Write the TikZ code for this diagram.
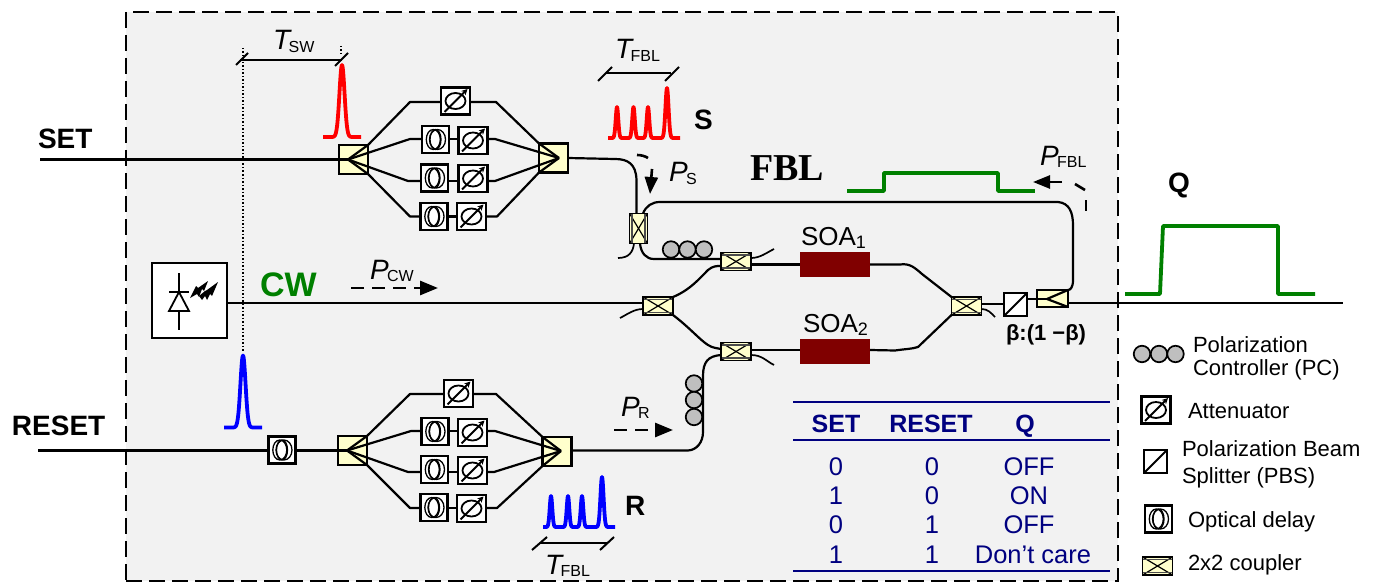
\documentclass[tikz,border=0pt]{standalone}
\usepackage{fontspec}
\setmainfont{Liberation Sans}
\newfontfamily\serifbold{Liberation Serif}[Scale=1]
\usetikzlibrary{arrows.meta,calc,shapes.geometric}
\definecolor{panel}{HTML}{F2F2F2}
\definecolor{cplr}{HTML}{FFFFCC}
\definecolor{soared}{HTML}{800000}
\definecolor{gline}{HTML}{008000}
\definecolor{tnavy}{HTML}{000080}
\definecolor{pcgray}{HTML}{BFBFBF}
\newcommand{\fs}[1]{\fontsize{#1}{#1}\selectfont}
\newcommand{\PT}[2]{{\fs{28}\itshape #1}\kern-1.5pt\raisebox{-2.5pt}{\fs{16}#2}}
\tikzset{
  fiber/.style={line width=2.2pt,black,line join=round},
  thinfiber/.style={line width=1.7pt,black,line join=round},
  iconbox/.style={draw=black,line width=2.4pt,fill=white,inner sep=0pt,rectangle,outer sep=0pt},
  attbox/.style={iconbox,minimum width=29pt,minimum height=27pt,path picture={
     \begin{scope}[shift={(path picture bounding box.center)}]
     \draw[line width=1.8pt] (0,0) ellipse [x radius=10pt,y radius=8pt];
     \draw[line width=1.8pt,-{Stealth[length=6pt,width=6pt]}] (-11,11) -- (12,-12);
     \end{scope}}},
  delaybox/.style={iconbox,minimum width=27pt,minimum height=27pt,path picture={
     \begin{scope}[shift={(path picture bounding box.center)}]
     \draw[line width=1.3pt] (-2.2,0) ellipse [x radius=7pt,y radius=10pt];
     \draw[line width=1.3pt] (0,0) ellipse [x radius=5.5pt,y radius=10pt];
     \draw[line width=1.3pt] (2,0) ellipse [x radius=8pt,y radius=10pt];
     \end{scope}}},
  pbsbox/.style={iconbox,minimum width=23pt,minimum height=23pt,path picture={
     \draw[line width=1.8pt] (path picture bounding box.south west) -- (path picture bounding box.north east);}},
  splitter/.style={draw=black,line width=2.2pt,fill=cplr,rectangle,inner sep=0pt,outer sep=0pt,minimum width=29pt,minimum height=29pt},
  hcoupler/.style={draw=black,line width=1.7pt,fill=cplr,rectangle,inner sep=0pt,outer sep=0pt,minimum width=30pt,minimum height=18pt,path picture={
     \draw[line width=1.2pt] (path picture bounding box.south west) -- (path picture bounding box.north east);
     \draw[line width=1.2pt] (path picture bounding box.north west) -- (path picture bounding box.south east);
     \draw[line width=1.2pt,black!70] ($(path picture bounding box.north west)+(0,2.5)$) -- ($(path picture bounding box.north east)+(0,2.5)$);
     \draw[line width=1.2pt,black!70] ($(path picture bounding box.south west)+(0,-2.5)$) -- ($(path picture bounding box.south east)+(0,-2.5)$);}},
  vcoupler/.style={draw=black,line width=1.7pt,fill=cplr,rectangle,inner sep=0pt,outer sep=0pt,minimum width=18pt,minimum height=30pt,path picture={
     \draw[line width=1.2pt] (path picture bounding box.south west) -- (path picture bounding box.north east);
     \draw[line width=1.2pt] (path picture bounding box.north west) -- (path picture bounding box.south east);
     \draw[line width=1.2pt,black!70] ($(path picture bounding box.north west)+(2.5,0)$) -- ($(path picture bounding box.south west)+(2.5,0)$);
     \draw[line width=1.2pt,black!70] ($(path picture bounding box.north east)+(-2.5,0)$) -- ($(path picture bounding box.south east)+(-2.5,0)$);}},
  tapbox/.style={draw=black,line width=2pt,fill=cplr,rectangle,inner sep=0pt,outer sep=0pt,minimum width=31pt,minimum height=17pt},
  soa/.style={fill=soared,rectangle,inner sep=0pt,outer sep=0pt,minimum width=70pt,minimum height=25pt},
  pc/.style={circle,draw=black,line width=1.7pt,fill=pcgray,inner sep=0pt,minimum size=16.5pt,outer sep=0pt},
  txt/.style={inner sep=0pt,outer sep=0pt,anchor=base west,font=\fs{22}},
  ctxt/.style={inner sep=0pt,outer sep=0pt,anchor=base,font=\fs{25.5},text=tnavy},
  hdr/.style={ctxt,font=\fs{25}\bfseries},
  lbl/.style={inner sep=0pt,outer sep=0pt,anchor=base west,font=\fs{28}\bfseries},
  dasharrow/.style={line width=2.8pt,dash pattern=on 13pt off 8pt,-{Triangle[length=18pt,width=14pt]}},
  dim/.style={line width=2pt,black},
  pulse/.style={line width=3.8pt,line join=round},
  tline/.style={line width=1.8pt,tnavy},
}
\begin{document}
\begin{tikzpicture}[x=1pt,y=-1pt]
\useasboundingbox (0,0) rectangle (1379,583);
\fill[white] (0,0) rectangle (1379,583);
\node[draw=black,fill=panel,line width=2.2pt,dash pattern=on 16pt off 7pt,rectangle,inner sep=0pt,minimum width=992pt,minimum height=569pt] (panelbox) at (622,296.5) {};

% --- upper bank ---
\node[splitter] (sin) at (353.5,159.5) {};
\node[splitter] (sout) at (553.5,158) {};
\coordinate (sinA) at (348,159.5);
\coordinate (soutA) at (559,158);
\node[attbox] (sa1) at (455.5,101) {};
\node[delaybox] (sd2) at (435.5,139.5) {};
\node[attbox] (sa2) at (473,140.5) {};
\node[delaybox] (sd3) at (434.5,178) {};
\node[attbox] (sa3) at (473,178.5) {};
\node[delaybox] (sd4) at (434,216.5) {};
\node[attbox] (sa4) at (471.5,216.5) {};
% --- lower bank ---
\node[splitter] (rin) at (352.5,450.5) {};
\node[splitter] (rout) at (557,451.5) {};
\coordinate (rinA) at (347,450.5);
\coordinate (routA) at (561,451);
\node[attbox] (ra1) at (458.5,393.5) {};
\node[delaybox] (rd2) at (435,431.5) {};
\node[attbox] (ra2) at (472.5,432.5) {};
\node[delaybox] (rd3) at (434.5,469.5) {};
\node[attbox] (ra3) at (472.5,470.5) {};
\node[delaybox] (rd4) at (434,507.5) {};
\node[attbox] (ra4) at (471.5,508.5) {};
\node[delaybox] (rdelay) at (282,450) {};
% --- interferometer ---
\node[vcoupler] (vc) at (638.5,228.5) {};
\node[hcoupler] (c1) at (736,261.5) {};
\node[hcoupler] (c2) at (658,306) {};
\node[hcoupler] (c3) at (736,351.5) {};
\node[hcoupler] (c4) at (966.5,306) {};
\node[soa] (soa1) at (835,264.5) {};
\node[soa] (soa2) at (835,351) {};
\node[pbsbox] (pbs) at (1015.5,304.5) {};
\node[tapbox] (tap) at (1052.5,298.5) {};
\coordinate (tapA) at (1047,299);
\node[iconbox,minimum width=75pt,minimum height=75pt] (laser) at (189.5,300.5) {};

% free ends
\coordinate (setend) at (40,159.5);
\coordinate (resetend) at (38,450.5);
\coordinate (qend) at (1343,303);

% --- fibres ---
\draw[fiber] (setend) -- (sin.west |- setend) -- (sinA);
\draw[fiber] (resetend) -- (rdelay.west |- resetend);
\draw[fiber] (rdelay.east |- resetend) -- (rin.west |- resetend) -- (rinA);
% upper arms
\draw[fiber] (sin.north east) -- (410,102) -- (sa1.west |- 0,102);
\draw[fiber] (sa1.east |- 0,102) -- (496,102) -- (sout.north west);
\draw[fiber] (sinA) -- (410,139) -- (sd2.west |- 0,139);
\draw[fiber] (sd2.east |- 0,139) -- (sa2.west |- 0,139);
\draw[fiber] (sa2.east |- 0,139) -- (495,139) -- (soutA);
\draw[fiber] (sinA) -- (408,181) -- (sd3.west |- 0,181);
\draw[fiber] (sd3.east |- 0,181) -- (sa3.west |- 0,181);
\draw[fiber] (sa3.east |- 0,181) -- (495,181) -- (soutA);
\draw[fiber] (sin.south east) -- (410,216.5) -- (sd4.west);
\draw[fiber] (sd4.east) -- (sa4.west);
\draw[fiber] (sa4.east) -- (497,216.5) -- (sout.south west);
\draw[fiber] (sinA) -- (sin.north east);
\draw[fiber] (sinA) -- (sin.south east);
\draw[fiber] (soutA) -- (sout.north west);
\draw[fiber] (soutA) -- (sout.south west);
% lower arms
\draw[fiber] (rin.north east) -- (410,394) -- (ra1.west |- 0,394);
\draw[fiber] (ra1.east |- 0,394) -- (496,394) -- (rout.north west);
\draw[fiber] (rinA) -- (411,431) -- (rd2.west |- 0,431);
\draw[fiber] (rd2.east |- 0,431) -- (ra2.west |- 0,431);
\draw[fiber] (ra2.east |- 0,431) -- (495,431) -- (routA);
\draw[fiber] (rinA) -- (408,472) -- (rd3.west |- 0,472);
\draw[fiber] (rd3.east |- 0,472) -- (ra3.west |- 0,472);
\draw[fiber] (ra3.east |- 0,472) -- (494,472) -- (routA);
\draw[fiber] (rin.south east) -- (410,508) -- (rd4.west |- 0,508);
\draw[fiber] (rd4.east |- 0,508) -- (ra4.west |- 0,508);
\draw[fiber] (ra4.east |- 0,508) -- (497,508) -- (rout.south west);
\draw[fiber] (rinA) -- (rin.north east);
\draw[fiber] (rinA) -- (rin.south east);
\draw[fiber] (routA) -- (rout.north west);
\draw[fiber] (routA) -- (rout.south west);
% SET output to the vertical coupler
\draw[fiber] (sout.east) -- (615,159) .. controls (628,159) and (636,164) .. (636.5,180) -- (636.5,213.5);
% feedback loop
\draw[fiber] (643,213.5) .. controls (646,206) and (652,202) .. (660,202) -- (1058,202) .. controls (1069,203) and (1073,212) .. (1073,225) -- (1073,280) .. controls (1073,288) and (1070,290) .. (tap.north east);
% vertical coupler tails
\draw[thinfiber] (634,243.5) .. controls (633,252) and (629,258) .. (618,258);
\draw[fiber] (640,243.5) .. controls (641,253) and (646,259) .. (654,259) -- (c1.west |- 0,259);
% PC above fibre
\node[pc] (pc1a) at (671,249.5) {};
\node[pc] (pc1b) at (687.5,249.5) {};
\node[pc] (pc1c) at (704,249.5) {};
% coupler tails and arms
\draw[thinfiber] (c1.east |- 0,258) .. controls (760,258) and (766,253) .. (774,249);
\draw[fiber] (c1.east |- 0,264.5) -- (soa1.west);
\draw[fiber] (soa1.east) -- (900,264.5) .. controls (910,263) and (915,268) .. (922,274) -- (c4.north west);
\draw[fiber] (c2.north east) .. controls (690,290) and (700,278) .. (708,270) .. controls (713,266) and (716,266) .. (c1.west |- 0,266);
\draw[fiber] (c2.south east) .. controls (690,328) and (700,340) .. (708,345) .. controls (713,348) and (716,348) .. (c3.west |- 0,349);
\draw[thinfiber] (c2.west |- 0,309) .. controls (634,309) and (628,314) .. (620,318);
\draw[fiber] (laser.east |- 0,303) -- (c2.west |- 0,303);
\draw[fiber] (c3.east |- 0,350) -- (soa2.west |- 0,350);
\draw[thinfiber] (c3.east |- 0,355) .. controls (762,355) and (766,361) .. (774,365);
\draw[fiber] (soa2.east |- 0,350) -- (895,350.5) .. controls (905,349) and (912,349) .. (918,347) -- (c4.south west);
\draw[fiber] (c4.east |- 0,304) -- (pbs.west |- 0,304);
\draw[thinfiber] (c4.east |- 0,309) .. controls (988,309) and (991,313) .. (995,317);
\draw[fiber] (pbs.east |- 0,299) -- (tap.west |- 0,299);
\draw[fiber] (tap.west |- 0,299) -- (tapA);
\draw[fiber] (tapA) -- (tap.north east);
\draw[fiber] (tapA) -- (tap.south east);
\draw[fiber] (tap.east |- qend) -- (qend);
% RESET output
\draw[fiber] (rout.east |- 0,450.5) -- (688,450.5) .. controls (697,450) and (703,442) .. (703,432) -- (703,376) .. controls (703,362) and (708,356) .. (c3.west |- 0,355);
\node[pc] (pc2a) at (694,383.5) {};
\node[pc] (pc2b) at (694,400) {};
\node[pc] (pc2c) at (694,417) {};

% --- laser symbol ---
\draw[line width=1.8pt] (179,273) -- (179,330);
\draw[line width=1.8pt] (169,292) -- (189,292);
\draw[line width=1.8pt,fill=white] (179,292) -- (189,311) -- (169,311) -- cycle;
\draw[line width=1.8pt] (179,311) -- (179,330);
\fill[black] (190,298) -- (196,286) -- (198,288) -- (208,281) -- (204,291) -- (202,289) -- (199,297) -- (197,294) -- cycle;
\fill[black] (199,296) -- (205,291) -- (207,290) -- (218,282) -- (212,296) -- (210,294) -- (207,300) -- (205,296) -- (202,300) -- cycle;

% --- timing marks ---
\coordinate (tswa) at (240,60);
\coordinate (tswb) at (342,60);
\draw[line width=1.5pt,dotted] (243,48) -- (243,351);
\draw[line width=1.5pt,dotted] (341,46) -- (341,56);
\draw[dim] (tswa) -- (tswb);
\draw[dim] (236,65) -- (248,53);
\draw[dim] (335,66) -- (348,53);
\coordinate (tfa) at (606,73);
\coordinate (tfb) at (671,73);
\draw[dim] (tfa) -- (tfb);
\draw[dim] (598,81) -- (612,67);
\draw[dim] (665,81) -- (679,67);
\coordinate (tfc) at (540,543);
\coordinate (tfd) at (608,543);
\draw[dim] (tfc) -- (tfd);
\draw[dim] (532,550) -- (547,537);
\draw[dim] (600,550) -- (614,537);
\node[txt] (tswl) at (273,50) {\PT{T}{SW}};
\node[txt] (tfbl1) at (615,59) {\PT{T}{FBL}};
\node[txt] (tfbl2) at (545,574) {\PT{T}{FBL}};

% --- pulses ---
\draw[pulse,red] plot[domain=-19:19,samples=77,smooth] ({342+\x},{137-72*exp(-(\x/3.6)^2)});
\draw[pulse,blue] plot[domain=-19:19,samples=77,smooth] ({243+\x},{427.5-72*exp(-(\x/3.6)^2)});
\draw[pulse,red] plot[domain=608:680,samples=145,smooth] (\x,{138-31*exp(-((\x-617)/1.8)^2)-31*exp(-((\x-633.5)/1.8)^2)-31*exp(-((\x-648)/1.8)^2)-50*exp(-((\x-667)/2.2)^2)});
\draw[pulse,blue] plot[domain=543:615,samples=145,smooth] (\x,{527-31*exp(-((\x-551)/1.8)^2)-31*exp(-((\x-568)/1.8)^2)-31*exp(-((\x-582)/1.8)^2)-50*exp(-((\x-602)/2.2)^2)});
\draw[line width=3.8pt,gline,line join=round] (847,191) -- (884,191) -- (884,173) -- (998,173) -- (998,191) -- (1035,191);
\draw[line width=3.8pt,gline,line join=round] (1125,294) -- (1160,294) -- (1163,226) -- (1278,226) -- (1278,294) -- (1315,294);

% --- power arrows ---
\coordinate (psa) at (652,169);
\coordinate (psb) at (650,194);
\draw[line width=2.6pt] (637,155) .. controls (641,155) and (645,156) .. (648,158);
\draw[line width=2.6pt,-{Triangle[length=17pt,width=13pt]}] (psa) -- (psb);
\coordinate (pcwa) at (351,288);
\coordinate (pcwb) at (438,288);
\draw[dasharrow] (pcwa) -- (pcwb);
\coordinate (pra) at (614,430);
\coordinate (prb) at (673,430);
\draw[dasharrow] (pra) -- (prb);
\coordinate (pfa) at (1062,182);
\coordinate (pfb) at (1033,182);
\draw[line width=2.6pt,-{Triangle[length=17pt,width=13pt]}] (pfa) -- (pfb);
\draw[line width=2.6pt] (1075,184) -- (1085,190);
\draw[line width=2.6pt] (1086,200) -- (1086,211);

% --- labels ---
\node[lbl] (lset) at (38,149) {SET};
\node[lbl] (lreset) at (12,435) {RESET};
\node[lbl,text=gline,font=\fs{34}\bfseries] (lcw) at (260,296) {CW};
\node[lbl,font=\fs{38}\serifbold\bfseries] (lfbl) at (750,181) {FBL};
\node[lbl] (ls) at (694,130) {S};
\node[lbl] (lr) at (625,515) {R};
\node[lbl] (lq) at (1168,193) {Q};
\node[txt] (lps) at (669,182) {\PT{P}{S}};
\node[txt] (lpfbl) at (1040,165) {\PT{P}{FBL}};
\node[txt] (lpcw) at (370,279) {\PT{P}{CW}};
\node[txt] (lpr) at (621,416) {\PT{P}{R}};
\node[txt,font=\fs{26}] (lsoa1) at (801,245) {SOA\raisebox{-3pt}{\fs{18}1}};
\node[txt,font=\fs{26}] (lsoa2) at (803,332) {SOA\raisebox{-3pt}{\fs{18}2}};
\node[txt,font=\fs{22}\bfseries] (lbeta) at (1006,340) {β:(1 −β)};

% --- table ---
\coordinate (ta1) at (793,402);
\coordinate (ta2) at (1110,402);
\coordinate (tb1) at (793,440);
\coordinate (tb2) at (1110,440);
\coordinate (tc1) at (793,571);
\coordinate (tc2) at (1110,571);
\draw[tline] (ta1) -- (ta2);
\draw[tline] (tb1) -- (tb2);
\draw[tline] (tc1) -- (tc2);
\node[hdr] (h1) at (836,432) {SET};
\node[hdr] (h2) at (931,432) {RESET};
\node[hdr] (h3) at (1025,432) {Q};
\node[ctxt] (r1a) at (836,475) {0};
\node[ctxt] (r1b) at (932,475) {0};
\node[ctxt] (r1c) at (1029,475) {OFF};
\node[ctxt] (r2a) at (836,504) {1};
\node[ctxt] (r2b) at (932,504) {0};
\node[ctxt] (r2c) at (1029,504) {ON};
\node[ctxt] (r3a) at (836,533) {0};
\node[ctxt] (r3b) at (932,533) {1};
\node[ctxt] (r3c) at (1029,533) {OFF};
\node[ctxt] (r4a) at (836,563) {1};
\node[ctxt] (r4b) at (932,563) {1};
\node[ctxt] (r4c) at (1033,563) {Don't care};

% --- legend ---
\node[pc] (lg1) at (1142,354) {};
\node[pc] (lg2) at (1159,354) {};
\node[pc] (lg3) at (1175.5,354) {};
\node[txt] (lgt1) at (1193,352) {Polarization};
\node[txt] (lgt1b) at (1193,375) {Controller (PC)};
\node[attbox] (lga) at (1156,410) {};
\node[txt] (lgt2) at (1188,418) {Attenuator};
\node[pbsbox] (lgp) at (1155.5,461.5) {};
\node[txt] (lgt3) at (1182,456) {Polarization Beam};
\node[txt] (lgt3b) at (1182,483) {Splitter (PBS)};
\node[delaybox] (lgd) at (1158.5,519) {};
\node[txt] (lgt4) at (1188,527) {Optical delay};
\node[hcoupler] (lgc) at (1157.5,566) {};
\node[txt] (lgt5) at (1188,570) {2x2 coupler};
\end{tikzpicture}
\end{document}
